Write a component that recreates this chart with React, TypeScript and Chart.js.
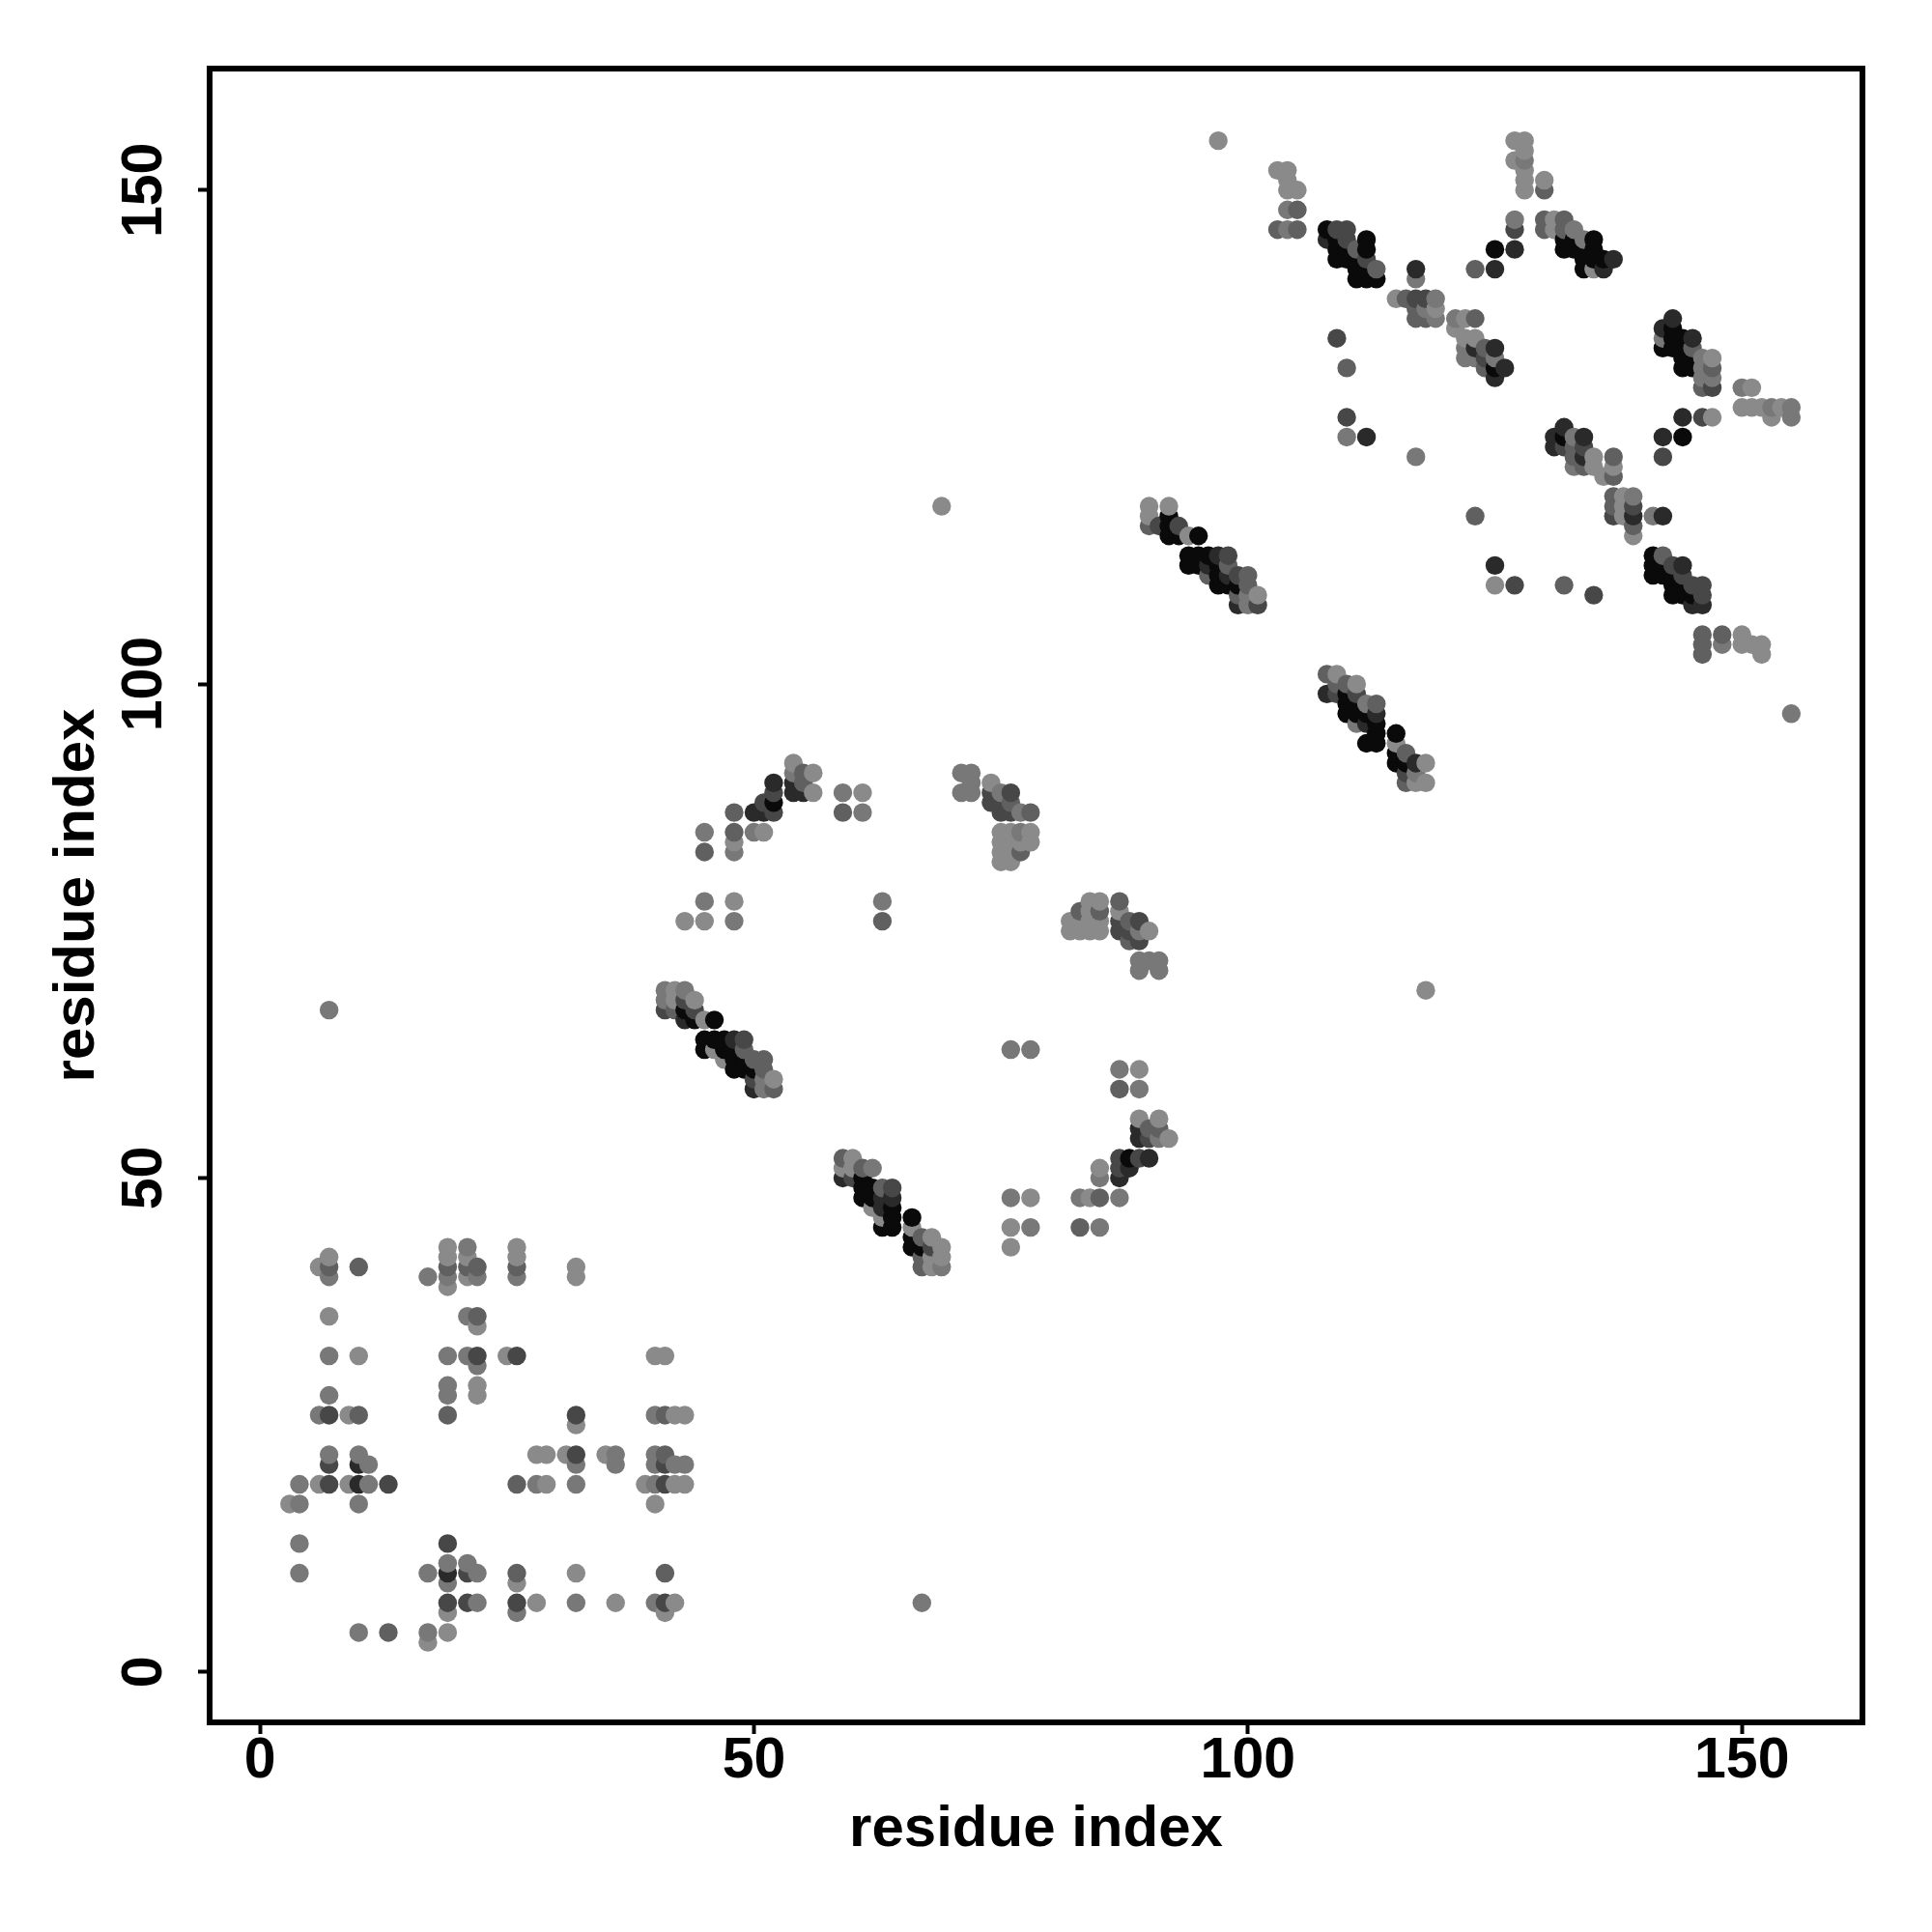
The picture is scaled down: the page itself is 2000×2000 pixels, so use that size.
import React, { useEffect, useRef } from "react";
import { Chart, registerables } from "chart.js";

Chart.register(...registerables);

type P = [number, number];

const tickValues = [0, 50, 100, 150];
const axisLabel = "residue index";

const shadeColors = ["#8a8a8a", "#787878", "#606060", "#474747", "#2a2a2a", "#0a0a0a"];

const shade1: P[] = [
  [3,17],[6,41],[6,19],[7,42],[7,36],[9,26],[9,19],[10,32],[19,43],[19,42],[19,39],[19,6],[19,4],[17,3],
  [21,42],[21,40],[22,35],[22,29],[22,28],[25,32],[26,43],[26,42],[26,9],[28,22],[28,7],[29,22],[29,19],[31,22],
  [32,41],[32,40],[32,25],[32,10],[35,22],[36,7],[39,19],[40,32],[40,17],[41,32],[41,6],[42,26],[42,19],[42,7],[43,26],[43,19],
  [42,69],[42,68],[44,68],[45,66],[46,63],[47,62],[52,60],[54,92],[56,91],[56,89],[61,89],[51,85],[48,84],[48,78],[43,76],[45,76],
  [59,51],[60,52],[60,51],[62,47],[63,46],[66,45],[68,44],[68,42],[68,41],[69,43],[69,42],[78,48],[76,45],[76,43],
  [84,48],[85,51],[89,61],[89,56],[91,56],[92,54],[74,90],[75,85],[75,84],[75,83],[75,82],[76,85],[76,84],[76,83],[76,82],
  [77,84],[78,85],[78,84],[82,76],[82,75],[83,76],[83,75],[84,78],[84,77],[84,76],[84,75],[85,78],[85,76],[85,75],[87,77],[90,75],
  [90,118],[90,117],[92,118],[94,115],[101,109],[109,101],[111,100],[115,94],[117,90],[118,92],[118,90],
  [103,152],[104,152],[104,151],[104,150],[105,150],[127,155],[127,153],[128,155],[128,154],[128,152],[128,151],[128,150],[130,151],
  [131,147],[131,146],[135,142],[115,139],[119,138],[122,137],[121,136],[122,135],[123,135],[125,110],
  [69,118],[97,155],[118,69],[151,130],[150,128],[151,128],[152,128],[153,127],[154,128],[147,133],[147,127],
  [135,123],[135,122],[136,121],[137,122],[138,119],[138,118],[138,117],[139,115],[150,105],[150,104],[151,104],[152,104],[152,103],
];

const shade2: P[] = [
  [4,17],[4,19],[4,13],[4,10],[6,26],[7,40],[7,32],[7,28],[7,22],[10,22],[10,17],[10,4],[11,21],[11,19],[17,40],[17,10],[17,4],
  [19,40],[19,32],[19,29],[19,28],[19,11],[19,9],[21,43],[21,36],[21,32],[21,11],[22,40],[22,31],[22,10],[22,7],[26,40],[26,6],
  [28,19],[32,21],[32,19],[32,7],[36,22],[36,21],[40,26],[40,22],[40,21],[40,19],[40,7],[42,21],[43,21],[7,67],[67,7],
  [41,69],[41,68],[43,69],[54,91],[59,89],[61,87],[50,85],[48,83],[45,85],[45,78],[48,76],[63,78],
  [51,60],[51,59],[62,51],[69,41],[76,63],[78,63],[76,48],[78,45],[83,48],[87,48],[85,45],[85,50],[87,61],[89,59],[91,54],
  [71,91],[72,91],[72,90],[71,89],[72,89],[75,89],[77,87],[77,85],[85,77],[89,75],[89,72],[89,71],[90,72],[91,72],[91,71],
  [100,109],[100,108],[111,96],[112,98],[117,91],[104,148],[104,146],[127,147],[128,153],[117,141],[133,146],[134,145],
  [119,139],[118,138],[119,137],[121,137],[122,134],[122,133],[123,133],[125,133],[110,125],[117,123],[155,97],
  [142,135],[146,133],[146,132],[146,131],[147,131],[150,130],[153,128],[155,128],[155,127],[133,125],[133,122],[139,119],[141,117],[148,104],
];

const shade3: P[] = [
  [7,41],[10,41],[10,26],[13,4],[19,41],[19,26],[21,41],[22,41],[22,36],[26,41],[26,19],[26,10],[41,26],[41,22],[41,10],
  [41,67],[42,67],[49,63],[50,62],[51,62],[51,61],[52,59],[55,91],[55,90],[59,87],[48,87],[48,85],[45,83],[63,76],
  [59,52],[61,51],[63,49],[67,44],[67,42],[67,41],[83,45],[85,48],[87,59],[90,55],[91,55],
  [76,88],[78,87],[77,83],[83,77],[85,77],[87,78],[88,76],[88,74],
  [90,116],[96,111],[98,112],[99,109],[100,111],[100,110],[108,101],[109,100],[110,100],[113,98],[116,93],[116,90],
  [105,148],[103,146],[105,146],[130,150],[130,147],[130,146],[132,147],[132,146],[111,144],[113,142],[123,142],
  [116,139],[117,138],[117,137],[118,137],[123,137],[124,134],[124,132],[110,132],[123,117],[132,110],
  [145,134],[146,130],[147,132],[133,124],[133,123],[134,122],[137,123],[137,121],[137,119],[137,118],[139,116],
  [142,113],[146,105],[146,104],[146,103],[148,105],
];

const shade4: P[] = [
  [7,26],[7,21],[7,19],[13,19],[19,13],[19,7],[21,10],[21,7],[22,32],[26,32],[26,7],[32,26],[32,22],[41,21],[41,19],[41,7],
  [41,67],[43,68],[44,67],[49,64],[50,60],[52,89],[52,87],[51,88],[60,50],[64,49],[68,43],[87,52],[87,51],[89,52],[90,54],
  [74,89],[74,88],[75,88],[75,87],[76,89],[76,87],[87,76],[87,75],[88,75],[89,76],[89,74],
  [91,116],[93,116],[98,113],[99,111],[101,108],[109,99],[111,99],[116,91],
  [109,146],[110,146],[110,145],[112,143],[127,146],[117,139],[118,139],[124,133],
  [109,135],[110,127],[127,110],[135,109],[146,127],[142,123],[147,130],[132,124],[134,124],[137,117],[139,118],
  [143,112],[144,111],[145,110],[146,110],[146,109],
];

const shade5: P[] = [
  [10,21],[10,19],[19,10],[43,66],[48,64],[50,59],[54,90],[54,89],[55,89],[52,90],[51,87],[50,87],
  [59,50],[63,48],[63,47],[64,48],[87,50],[88,51],[89,55],[89,54],[90,52],
  [96,112],[97,113],[99,108],[98,111],[108,99],[113,97],[112,96],[117,92],
  [108,145],[117,142],[125,142],[127,144],[136,142],[137,143],[123,134],[125,134],[126,132],[125,131],[112,125],[125,112],
  [142,136],[143,137],[145,135],[144,127],[142,125],[131,125],[131,124],[132,126],[134,125],[134,123],[139,117],[142,117],
  [144,112],[145,108],[146,108],
];

const shade6: P[] = [
  [43,67],[44,66],[46,66],[45,64],[45,63],[46,64],[47,64],[47,63],[48,63],[48,62],[48,61],[49,62],[49,61],[50,61],[52,88],
  [61,50],[61,49],[61,48],[62,49],[62,48],[63,45],[64,47],[64,46],[64,45],[66,46],[66,44],[66,43],[67,43],[88,52],
  [92,117],[92,116],[92,115],[93,115],[95,115],[94,113],[94,112],[95,113],[95,112],[96,113],[97,112],[97,111],[97,110],[98,110],[99,110],
  [110,99],[110,98],[110,97],[111,98],[111,97],[112,97],[112,94],[113,96],[113,95],[113,94],[115,95],[115,93],[115,92],[116,92],
  [108,146],[109,145],[109,144],[109,143],[110,144],[110,143],[111,143],[111,142],[111,141],[112,145],[112,144],[112,142],[112,141],[113,141],
  [125,144],[132,145],[132,144],[133,145],[133,144],[134,144],[134,143],[134,142],[135,145],[135,144],[135,143],[136,143],
  [125,132],[132,125],[144,125],[142,134],[143,136],[143,135],[143,134],[144,135],[144,134],[144,133],[144,132],[145,133],[145,132],
  [141,113],[141,112],[141,111],[142,112],[142,111],[143,111],[143,110],[143,109],[144,110],[144,109],[145,109],
];

const shadeLists = [shade1, shade2, shade3, shade4, shade5, shade6];

export default function App() {
  const ref = useRef<HTMLCanvasElement>(null);
  useEffect(() => {
    if (!ref.current) return;
    const seen = new Map<string, { x: number; y: number; c: string }>();
    shadeLists.forEach((list, i) => {
      list.forEach(([x, y]) => {
        seen.set(`${x},${y}`, { x, y, c: shadeColors[i] });
      });
    });
    const points = [...seen.values()].sort((a, b) => a.x - b.x || a.y - b.y);
    const family = "'Liberation Sans', Arial, sans-serif";
    const tickFont = { family, size: 59, weight: "bold" as const };
    const titleFont = { family, size: 60, weight: "bold" as const };
    const frame = {
      id: "frame",
      afterDraw(c: Chart) {
        const { left, top, width, height } = c.chartArea;
        const g = c.ctx;
        g.save();
        g.strokeStyle = "#000";
        g.lineWidth = 6;
        g.strokeRect(left, top, width, height);
        g.restore();
      },
    };
    const grid = { drawOnChartArea: false, drawTicks: true, tickLength: 12, tickWidth: 4, tickColor: "#000" };
    const chart = new Chart(ref.current, {
      type: "scatter",
      data: {
        datasets: [
          {
            data: points,
            pointRadius: 9.7,
            pointBorderWidth: 0,
            pointBackgroundColor: points.map((p) => p.c),
          },
        ],
      },
      options: {
        animation: false,
        responsive: false,
        layout: { padding: { left: 0, top: 71, right: 72, bottom: 0 } },
        plugins: { legend: { display: false }, tooltip: { enabled: false } },
        scales: {
          x: {
            type: "linear",
            min: -5.09,
            max: 162.2,
            afterFit: (s: any) => { s.height = 217; },
            afterBuildTicks: (s: any) => { s.ticks = tickValues.map((value) => ({ value })); },
            grid,
            border: { display: false },
            ticks: { color: "#000", font: tickFont, padding: -7, maxRotation: 0, minRotation: 0, autoSkip: false, includeBounds: false },
            title: { display: true, text: axisLabel, color: "#000", font: titleFont, padding: { top: 0, bottom: 70 } },
          },
          y: {
            type: "linear",
            min: -5.1,
            max: 162.3,
            afterFit: (s: any) => { s.width = 217; },
            afterBuildTicks: (s: any) => { s.ticks = tickValues.map((value) => ({ value })); },
            grid,
            border: { display: false },
            ticks: { color: "#000", font: tickFont, padding: 5, minRotation: 90, maxRotation: 90, autoSkip: false, crossAlign: "center", includeBounds: false },
            title: { display: true, text: axisLabel, color: "#000", font: titleFont, padding: { top: 44, bottom: 0 } },
          },
        },
      },
      plugins: [frame],
    } as any);
    return () => chart.destroy();
  }, []);
  return (
    <canvas
      ref={ref}
      width={2000}
      height={2000}
      style={{ position: "absolute", left: 0, top: 0, width: 2000, height: 2000, display: "block" }}
    />
  );
}
